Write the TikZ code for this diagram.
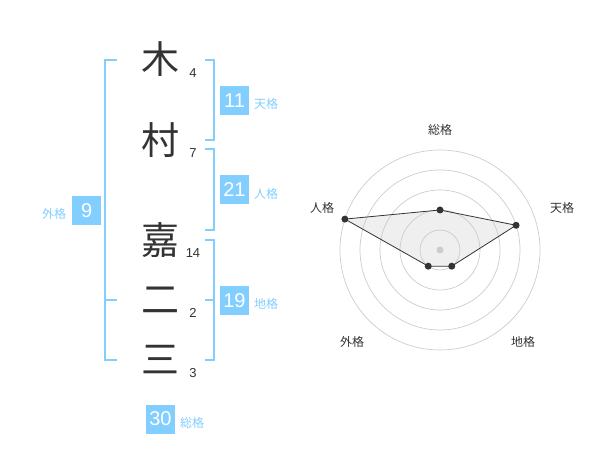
\documentclass[tikz,border=0pt]{standalone}
\usepackage{fontspec}
\usetikzlibrary{calc}
\setmainfont{Liberation Sans}
\newfontfamily\cjk{Noto Sans CJK JP}
\definecolor{sky}{RGB}{130,206,255}
\definecolor{ink}{RGB}{51,51,51}
\definecolor{ring}{RGB}{204,204,204}
\tikzset{
  kanji/.style={inner sep=0pt, text=ink, font=\cjk\fontsize{38}{38}\selectfont},
  strokes/.style={inner sep=0pt, text=ink, font=\fontsize{13}{13}\selectfont},
  valbox/.style={fill=sky, text=white, minimum size=29pt, inner sep=0pt, font=\fontsize{20}{20}\selectfont},
  kaku/.style={inner sep=0pt, text=sky, font=\cjk\fontsize{12}{12}\selectfont},
  brace/.style={draw=sky, line width=1.6pt},
  radlabel/.style={inner sep=0pt, text=ink, font=\cjk\fontsize{12}{12}\selectfont},
  dot/.style={circle, fill=ink, inner sep=0pt, minimum size=7pt},
}
\begin{document}
\begin{tikzpicture}[x=1pt,y=-1pt]
\useasboundingbox (0,0) rectangle (600,470);
% characters
\node[kanji] (c1) at (160,59) {木};
\node[kanji] (c2) at (160,140) {村};
\node[kanji] (c3) at (160,240) {嘉};
\node[kanji] (c4) at (160,300) {二};
\node[kanji] (c5) at (160,360) {三};
% strokes
\node[strokes] (n1) at (193,73) {4};
\node[strokes] (n2) at (193,153) {7};
\node[strokes] (n3) at (193,253) {14};
\node[strokes] (n4) at (193,313) {2};
\node[strokes] (n5) at (193,373) {3};
% brackets
\draw[brace] (117,60) -- (105,60) -- (105,360) -- (117,360);
\draw[brace] (105,300) -- (117,300);
\draw[brace] (205,60) -- (214,60) -- (214,140) -- (205,140);
\draw[brace] (205,149) -- (214,149) -- (214,230) -- (205,230);
\draw[brace] (205,240) -- (214,240) -- (214,360) -- (205,360);
\draw[brace] (205,300) -- (214,300);
% value boxes
\node[valbox] (b1) at (234.5,100.5) {11};
\node[kaku] (l1) at (266,104) {天格};
\node[valbox] (b2) at (234.5,190) {21};
\node[kaku] (l2) at (266,194) {人格};
\node[valbox] (b3) at (234.5,300.5) {19};
\node[kaku] (l3) at (266,304) {地格};
\node[valbox] (b4) at (86.7,210.5) {9};
\node[kaku] (l4) at (54,214) {外格};
\node[valbox] (b5) at (160.5,419) {30};
\node[kaku] (l5) at (192,423) {総格};
% radar
\coordinate (o) at (440,250);
\fill[black!7, opacity=0.9] ($(o)+(-90:40)$) -- ($(o)+(-18:80)$) -- ($(o)+(54:20)$) -- ($(o)+(126:20)$) -- ($(o)+(198:100)$) -- cycle;
\foreach \r in {20,40,60,80,100} \draw[ring, line width=0.7pt] (o) circle (\r);
\fill[ring] (o) circle (3.5);
\node[dot] (p1) at ($(o)+(-90:40)$) {};
\node[dot] (p2) at ($(o)+(-18:80)$) {};
\node[dot] (p3) at ($(o)+(54:20)$) {};
\node[dot] (p4) at ($(o)+(126:20)$) {};
\node[dot] (p5) at ($(o)+(198:100)$) {};
\draw[ink, line width=0.8pt] (p1.center) -- (p2.center) -- (p3.center) -- (p4.center) -- (p5.center) -- cycle;
\node[radlabel] (r1) at (440,130) {総格};
\node[radlabel] (r2) at (562,208) {天格};
\node[radlabel] (r3) at (322,208) {人格};
\node[radlabel] (r4) at (352,342) {外格};
\node[radlabel] (r5) at (523,342) {地格};
\end{tikzpicture}
\end{document}
